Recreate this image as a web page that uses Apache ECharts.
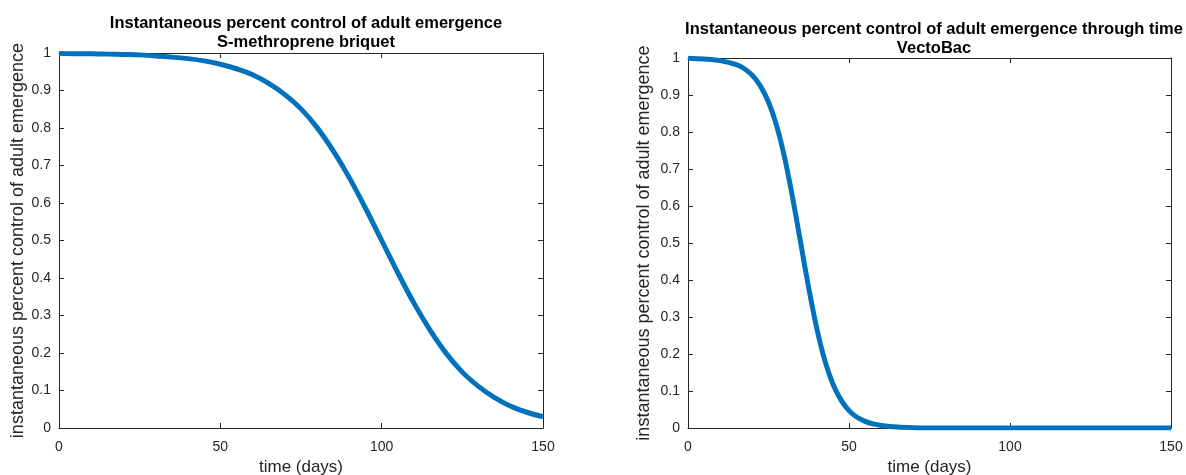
<!DOCTYPE html>
<html>
<head>
<meta charset="utf-8">
<script src="https://cdn.jsdelivr.net/npm/echarts@6/dist/echarts.min.js"></script>
<style>
html, body { margin: 0; padding: 0; background: #fff; }
#chart { width: 1186px; height: 475px; }
</style>
</head>
<body>
<div id="chart"></div>
<script>
// S-methroprene briquet
var daysLeft = [0, 5, 10, 15, 20, 25, 30, 35, 40, 45, 50, 55, 60, 65, 70, 75, 80, 85, 90, 95,
  100, 105, 110, 115, 120, 125, 130, 135, 140, 145, 150];
var controlLeft = [0.999, 0.998, 0.998, 0.997, 0.996, 0.995, 0.992, 0.989, 0.985, 0.979, 0.970,
  0.958, 0.942, 0.919, 0.889, 0.851, 0.801, 0.739, 0.667, 0.586, 0.500, 0.414, 0.333, 0.261,
  0.199, 0.149, 0.111, 0.081, 0.058, 0.042, 0.030];

// VectoBac
var daysRight = [0, 5, 10, 15, 17.5, 20, 22.5, 25, 27.5, 30, 32.5, 35, 37.5, 40, 42.5, 45, 47.5,
  50, 52.5, 55, 57.5, 60, 65, 70, 80, 90, 100, 110, 120, 130, 140, 150];
var controlRight = [0.999, 0.997, 0.993, 0.982, 0.971, 0.953, 0.924, 0.881, 0.818, 0.731, 0.622,
  0.500, 0.378, 0.269, 0.182, 0.119, 0.076, 0.047, 0.029, 0.018, 0.011, 0.007, 0.0025, 0.001,
  0, 0, 0, 0, 0, 0, 0, 0];

var xTicks = [0, 50, 100, 150];
var yTicks = [0, 0.1, 0.2, 0.3, 0.4, 0.5, 0.6, 0.7, 0.8, 0.9, 1];

var titles = [
  ['Instantaneous percent control of adult emergence', 'S-methroprene briquet'],
  ['Instantaneous percent control of adult emergence through time', 'VectoBac']
];
var xLabel = 'time (days)';
var yLabel = 'instantaneous percent control of adult emergence';

var FONT = 'Liberation Sans, Arial, Helvetica, sans-serif';
var AX = '#262626';
var LINE = '#0072BD';

function pairs(xs, ys) {
  return xs.map(function (x, i) { return [x, ys[i]]; });
}

var grids = [
  { left: 59, top: 53, width: 484, height: 375, outerBoundsMode: 'none', containLabel: false },
  { left: 688, top: 58, width: 483, height: 370, outerBoundsMode: 'none', containLabel: false }
];

function xAxisFor(g, pos, shown, gap) {
  return {
    type: 'value', gridIndex: g, position: pos, min: 0, max: 150, interval: 50,
    name: shown ? xLabel : '', nameLocation: 'middle', nameGap: gap,
    nameTextStyle: { fontFamily: FONT, fontSize: 17, color: AX },
    axisLine: { show: true, onZero: false, lineStyle: { color: AX, width: 1 } },
    axisTick: { show: true, inside: true, length: 5, lineStyle: { color: AX } },
    axisLabel: { show: shown, fontFamily: FONT, fontSize: 14, color: AX, margin: 12 },
    splitLine: { show: false }
  };
}

function yAxisFor(g, pos, shown, gap) {
  return {
    type: 'value', gridIndex: g, position: pos, min: 0, max: 1, interval: 0.1,
    name: shown ? yLabel : '', nameLocation: 'middle', nameGap: gap,
    nameTextStyle: { fontFamily: FONT, fontSize: 18, color: AX },
    axisLine: { show: true, onZero: false, lineStyle: { color: AX, width: 1 } },
    axisTick: { show: true, inside: true, length: 5, lineStyle: { color: AX } },
    axisLabel: { show: shown, fontFamily: FONT, fontSize: 14, color: AX, margin: 8,
      formatter: function (v) { return String(Math.round(v * 10) / 10); } },
    splitLine: { show: false }
  };
}

var chart = echarts.init(document.getElementById('chart'), null, { renderer: 'canvas' });

var option = {
  backgroundColor: '#ffffff',
  animation: false,
  title: [
    { text: titles[0][0] + '\n' + titles[0][1], left: 301, top: 9, textAlign: 'center',
      textStyle: { fontFamily: FONT, fontSize: 16.5, fontWeight: 'bold', color: '#000', lineHeight: 19 } },
    { text: titles[1][0] + '\n' + titles[1][1], left: 929, top: 15, textAlign: 'center',
      textStyle: { fontFamily: FONT, fontSize: 16.5, fontWeight: 'bold', color: '#000', lineHeight: 19 } }
  ],
  grid: grids,
  xAxis: [
    xAxisFor(0, 'bottom', true, 28), xAxisFor(0, 'top', false, 0),
    xAxisFor(1, 'bottom', true, 30), xAxisFor(1, 'top', false, 0)
  ],
  yAxis: [
    yAxisFor(0, 'left', true, 32), yAxisFor(0, 'right', false, 0),
    yAxisFor(1, 'left', true, 35), yAxisFor(1, 'right', false, 0)
  ],
  series: [
    { type: 'line', xAxisIndex: 0, yAxisIndex: 0, data: pairs(daysLeft, controlLeft),
      smooth: 0.3, showSymbol: false, lineStyle: { color: LINE, width: 5 } },
    { type: 'line', xAxisIndex: 2, yAxisIndex: 2, data: pairs(daysRight, controlRight),
      smooth: 0.3, showSymbol: false, lineStyle: { color: LINE, width: 5 } }
  ]
};

chart.setOption(option);
</script>
</body>
</html>
